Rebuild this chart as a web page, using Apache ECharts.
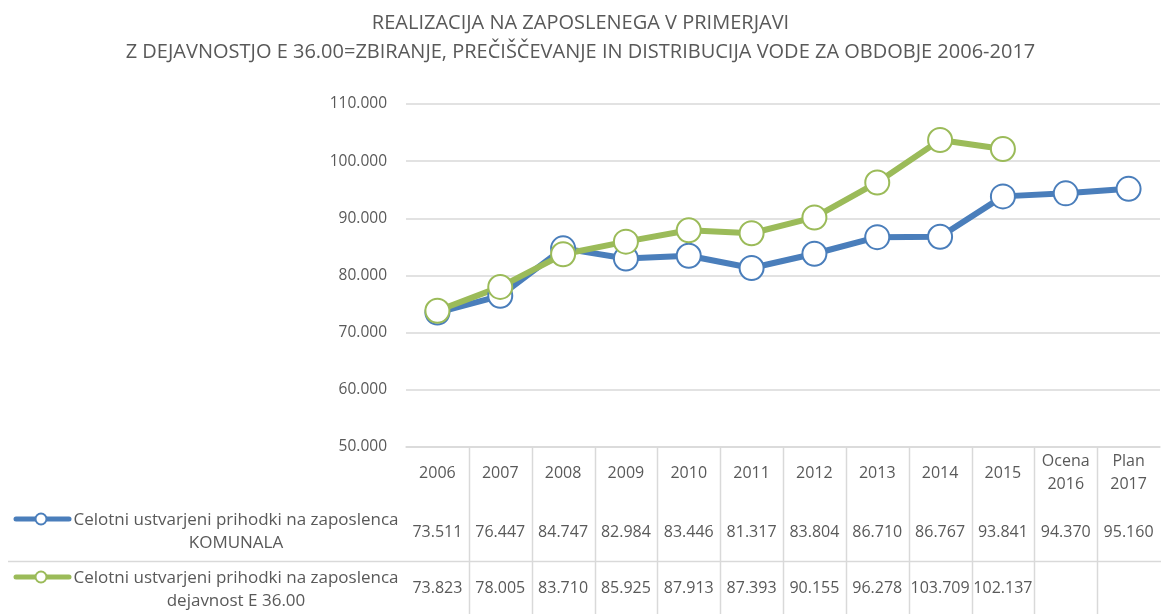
<!DOCTYPE html>
<html><head><meta charset="utf-8">
<script src="https://cdn.jsdelivr.net/npm/echarts@6/dist/echarts.min.js"></script>
<style>html,body{margin:0;padding:0;background:#fff}#c{width:1161px;height:614px}</style>
</head><body><div id="c"></div>
<script>
const categories = ['2006','2007','2008','2009','2010','2011','2012','2013','2014','2015','Ocena\n2016','Plan\n2017'];
const komunala = [73511,76447,84747,82984,83446,81317,83804,86710,86767,93841,94370,95160];
const dejavnost = [73823,78005,83710,85925,87913,87393,90155,96278,103709,102137,null,null];
const seriesNames = ['Celotni ustvarjeni prihodki na zaposlenca\nKOMUNALA','Celotni ustvarjeni prihodki na zaposlenca\ndejavnost E 36.00'];
const titleText = 'REALIZACIJA NA ZAPOSLENEGA V PRIMERJAVI\nZ DEJAVNOSTJO E 36.00=ZBIRANJE, PREČIŠČEVANJE IN DISTRIBUCIJA VODE ZA OBDOBJE 2006-2017';

const BLUE = '#4a7ebb', GREEN = '#9bbb59', TXT = '#595959', GRID = '#d9d9d9', FONT = 'Open Sans';
function fmt(v){ if(v===null||v===undefined) return ''; return String(v).replace(/\B(?=(\d{3})+(?!\d))/g,'.'); }

const chart = echarts.init(document.getElementById('c'));
const hiddenAxis = (vals, margin) => ({
  type:'category', data: vals.map(fmt), position:'bottom', gridIndex:0, offset:0,
  axisLine:{show:false}, axisTick:{show:false}, splitLine:{show:false},
  axisLabel:{interval:0, margin:margin, verticalAlign:'middle', color:TXT, fontSize:16, fontFamily:FONT}
});
chart.setOption({
  animation:false,
  textStyle:{fontFamily:FONT},
  title:{text:titleText, left:'center', top:4,
    textStyle:{fontSize:20, fontWeight:'normal', color:TXT, lineHeight:29, fontFamily:FONT}},
  grid:{left:406, right:1, top:104, bottom:167},
  xAxis:[
    {type:'category', data:categories, boundaryGap:true,
     axisLine:{lineStyle:{color:GRID, width:1.5}}, axisTick:{show:false},
     axisLabel:{interval:0, margin:26, verticalAlign:'middle', lineHeight:23, color:TXT, fontSize:16, fontFamily:FONT}},
    hiddenAxis(komunala, 85),
    hiddenAxis(dejavnost, 141)
  ],
  yAxis:{type:'value', min:50000, max:110000, interval:10000,
    axisLine:{show:false}, axisTick:{show:false},
    splitLine:{lineStyle:{color:GRID, width:1.5}},
    axisLabel:{formatter:fmt, color:TXT, fontSize:15.5, margin:19, fontFamily:FONT}},
  series:[
    {name:seriesNames[0], type:'line', data:komunala, symbol:'circle', symbolSize:24,
     lineStyle:{color:BLUE, width:6}, itemStyle:{color:'#fff', borderColor:BLUE, borderWidth:2}},
    {name:seriesNames[1], type:'line', data:dejavnost, symbol:'circle', symbolSize:24,
     lineStyle:{color:GREEN, width:6}, itemStyle:{color:'#fff', borderColor:GREEN, borderWidth:2}}
  ]
});

const g = [];
const centers = categories.map((c,i)=>chart.convertToPixel({xAxisIndex:0}, i));
const axisY = chart.convertToPixel({yAxisIndex:0}, 50000);
for(let i=1;i<centers.length;i++){
  const x = Math.round((centers[i-1]+centers[i])/2)+0.5;
  g.push({type:'line', shape:{x1:x, y1:axisY, x2:x, y2:614}, style:{stroke:GRID, lineWidth:1.5}, silent:true});
}
g.push({type:'line', shape:{x1:8, y1:561.5, x2:1161, y2:561.5}, style:{stroke:GRID, lineWidth:1.5}, silent:true});
const rows = [{y:519, ty:532, color:BLUE, text:seriesNames[0]},{y:577, ty:590, color:GREEN, text:seriesNames[1]}];
rows.forEach(r=>{
  g.push({type:'line', shape:{x1:16, y1:r.y, x2:69, y2:r.y}, style:{stroke:r.color, lineWidth:5, lineCap:'round'}, silent:true});
  g.push({type:'circle', shape:{cx:41, cy:r.y, r:5.5}, style:{fill:'#fff', stroke:r.color, lineWidth:2}, silent:true});
  g.push({type:'text', x:236, y:r.ty, style:{text:r.text, fill:TXT, fontSize:17, fontFamily:FONT, align:'center', verticalAlign:'middle', lineHeight:23}, silent:true});
});
chart.setOption({graphic:g});
</script></body></html>
